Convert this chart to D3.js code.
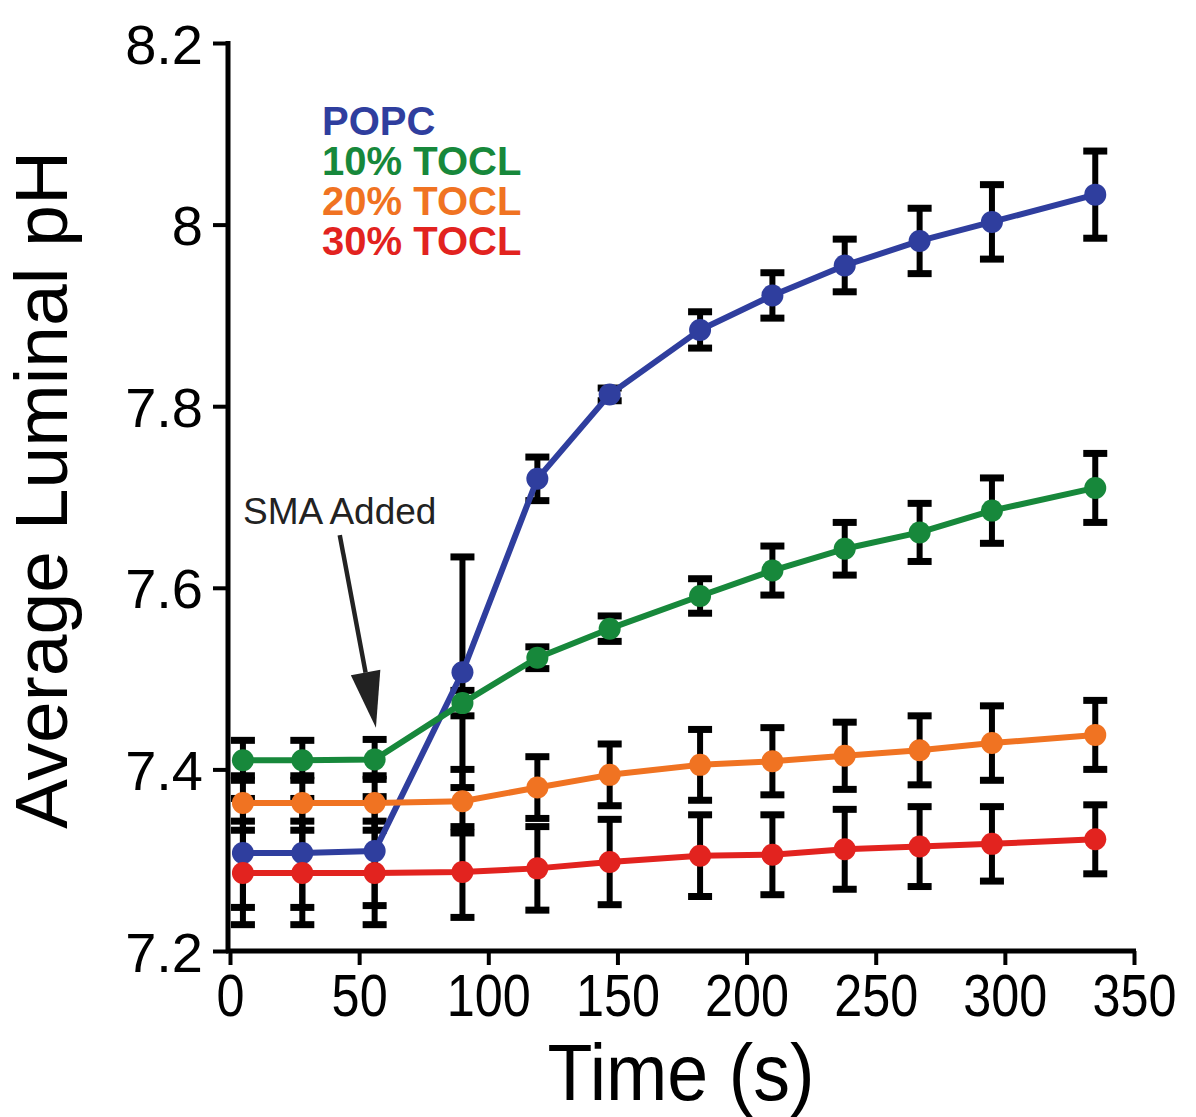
<!DOCTYPE html>
<html>
<head>
<meta charset="utf-8">
<script src="https://cdn.jsdelivr.net/npm/d3@7"></script>
<style>
  body { margin: 0; background: #fff; }
  text { font-family: "Liberation Sans", Arial, sans-serif; }
</style>
</head>
<body>
<svg id="phChart" width="1196" height="1117"></svg>
<script>
const times = [5, 28, 56, 90, 119, 147, 182, 210, 238, 267, 295, 335];

const popcMean = [7.308, 7.308, 7.31, 7.507, 7.72, 7.813, 7.884, 7.922, 7.955, 7.982, 8.003, 8.033];
const popcErr = [0.06, 0.06, 0.06, 0.127, 0.024, 0.007, 0.02, 0.025, 0.029, 0.036, 0.041, 0.048];

const tocl10Mean = [7.41, 7.41, 7.411, 7.473, 7.523, 7.555, 7.591, 7.619, 7.643, 7.661, 7.685, 7.71];
const tocl10Err = [0.022, 0.022, 0.022, 0.014, 0.012, 0.014, 0.019, 0.027, 0.029, 0.032, 0.036, 0.038];

const tocl20Mean = [7.363, 7.363, 7.363, 7.365, 7.38, 7.394, 7.405, 7.409, 7.415, 7.421, 7.429, 7.438];
const tocl20Err = [0.03, 0.03, 0.03, 0.035, 0.034, 0.034, 0.039, 0.037, 0.037, 0.038, 0.041, 0.038];

const tocl30Mean = [7.286, 7.286, 7.286, 7.287, 7.291, 7.298, 7.305, 7.306, 7.312, 7.315, 7.318, 7.323];
const tocl30Err = [0.057, 0.057, 0.057, 0.05, 0.046, 0.047, 0.045, 0.044, 0.044, 0.044, 0.041, 0.038];

const seriesNames = ["POPC", "10% TOCL", "20% TOCL", "30% TOCL"];
const seriesColors = ["#2f3e9e", "#17883b", "#f07322", "#e2231f"];

const xTicks = [0, 50, 100, 150, 200, 250, 300, 350];
const yTicks = [7.2, 7.4, 7.6, 7.8, 8.0, 8.2];

// arrow for the annotation, in data units: [time, pH]
const arrowStart = [42.5, 7.658];
const arrowEnd = [56.5, 7.446];

const series = [
  { name: seriesNames[0], mean: popcMean, err: popcErr, color: seriesColors[0] },
  { name: seriesNames[1], mean: tocl10Mean, err: tocl10Err, color: seriesColors[1] },
  { name: seriesNames[2], mean: tocl20Mean, err: tocl20Err, color: seriesColors[2] },
  { name: seriesNames[3], mean: tocl30Mean, err: tocl30Err, color: seriesColors[3] },
];

let svg = d3.select("#phChart");

const x = d3.scaleLinear().domain([0, 350]).range([230, 1134]);
const y = d3.scaleLinear().domain([7.2, 8.2]).range([951, 43]);

// axes
const xAxis = svg
  .append("g")
  .attr("transform", "translate(0,951)")
  .call(d3.axisBottom(x).tickValues(xTicks).tickSize(14).tickSizeOuter(0).tickPadding(8).tickFormat(d3.format("d")));
xAxis.select(".domain").attr("stroke", "#000").attr("stroke-width", 5).attr("d", "M226,0H1136");
xAxis.selectAll(".tick line").attr("stroke", "#000").attr("stroke-width", 4);
xAxis
  .selectAll(".tick text")
  .attr("fill", "#000")
  .attr("font-size", 60)
  .attr("font-family", "Liberation Sans, Arial, sans-serif")
  .attr("transform", "scale(0.84,1)")
  .attr("dy", "0.72em");

const yAxis = svg
  .append("g")
  .attr("transform", "translate(228,0)")
  .call(d3.axisLeft(y).tickValues(yTicks).tickSize(15).tickSizeOuter(0).tickPadding(10).tickFormat((d) => (d === 8 ? "8" : d3.format(".1f")(d))));
yAxis.select(".domain").attr("stroke", "#000").attr("stroke-width", 5).attr("d", "M0,41V953");
yAxis.selectAll(".tick line").attr("stroke", "#000").attr("stroke-width", 4);
yAxis
  .selectAll(".tick text")
  .attr("fill", "#000")
  .attr("font-size", 56)
  .attr("font-family", "Liberation Sans, Arial, sans-serif")
  .attr("dy", "0.36em");

svg
  .append("text")
  .text("Time (s)")
  .attr("transform", "translate(681,1100) scale(0.92,1)")
  .attr("text-anchor", "middle")
  .attr("font-size", 80);

svg
  .append("text")
  .text("Average Luminal pH")
  .attr("transform", "translate(67,490) rotate(-90)")
  .attr("text-anchor", "middle")
  .attr("font-size", 75);

// error bars
const capHalf = 12;
series.forEach((s) => {
  let g = svg.append("g").attr("class", "errBars");
  times.forEach((t, i) => {
    const cx = x(t);
    const top = y(s.mean[i] + s.err[i]);
    const bot = y(s.mean[i] - s.err[i]);
    g.append("line")
      .attr("x1", cx).attr("x2", cx)
      .attr("y1", top).attr("y2", bot)
      .attr("stroke", "#000").attr("stroke-width", 6);
    g.append("line")
      .attr("x1", cx - capHalf).attr("x2", cx + capHalf)
      .attr("y1", top).attr("y2", top)
      .attr("stroke", "#000").attr("stroke-width", 7);
    g.append("line")
      .attr("x1", cx - capHalf).attr("x2", cx + capHalf)
      .attr("y1", bot).attr("y2", bot)
      .attr("stroke", "#000").attr("stroke-width", 7);
  });
});

// lines and points
const line = d3
  .line()
  .x((d) => x(d[0]))
  .y((d) => y(d[1]));

series.forEach((s) => {
  const pts = times.map((t, i) => [t, s.mean[i]]);
  svg
    .append("path")
    .datum(pts)
    .attr("d", line)
    .attr("fill", "none")
    .attr("stroke", s.color)
    .attr("stroke-width", 6)
    .attr("stroke-linejoin", "round");
});

series.forEach((s) => {
  const pts = times.map((t, i) => [t, s.mean[i]]);
  svg
    .append("g")
    .selectAll("circle")
    .data(pts)
    .join("circle")
    .attr("cx", (d) => x(d[0]))
    .attr("cy", (d) => y(d[1]))
    .attr("r", 11)
    .attr("fill", s.color);
});

// legend
series.forEach((s, i) => {
  svg
    .append("text")
    .text(s.name)
    .attr("x", 322)
    .attr("y", 135 + i * 40)
    .attr("font-size", 40)
    .attr("font-weight", "bold")
    .attr("fill", s.color);
});

// annotation
svg
  .append("text")
  .text("SMA Added")
  .attr("x", 243)
  .attr("y", 524)
  .attr("font-size", 37)
  .attr("fill", "#222");

const ax1 = x(arrowStart[0]);
const ay1 = y(arrowStart[1]);
const ax2 = x(arrowEnd[0]);
const ay2 = y(arrowEnd[1]);
const ang = Math.atan2(ay2 - ay1, ax2 - ax1);
const headLen = 56;
const headHalf = 15;
const bx = ax2 - headLen * Math.cos(ang);
const by = ay2 - headLen * Math.sin(ang);

svg
  .append("line")
  .attr("x1", ax1).attr("y1", ay1)
  .attr("x2", bx).attr("y2", by)
  .attr("stroke", "#222")
  .attr("stroke-width", 4.5);
svg
  .append("path")
  .attr(
    "d",
    `M${ax2},${ay2}L${bx - headHalf * Math.sin(ang)},${by + headHalf * Math.cos(ang)}L${bx + headHalf * Math.sin(ang)},${by - headHalf * Math.cos(ang)}Z`
  )
  .attr("fill", "#222");
</script>
</body>
</html>
